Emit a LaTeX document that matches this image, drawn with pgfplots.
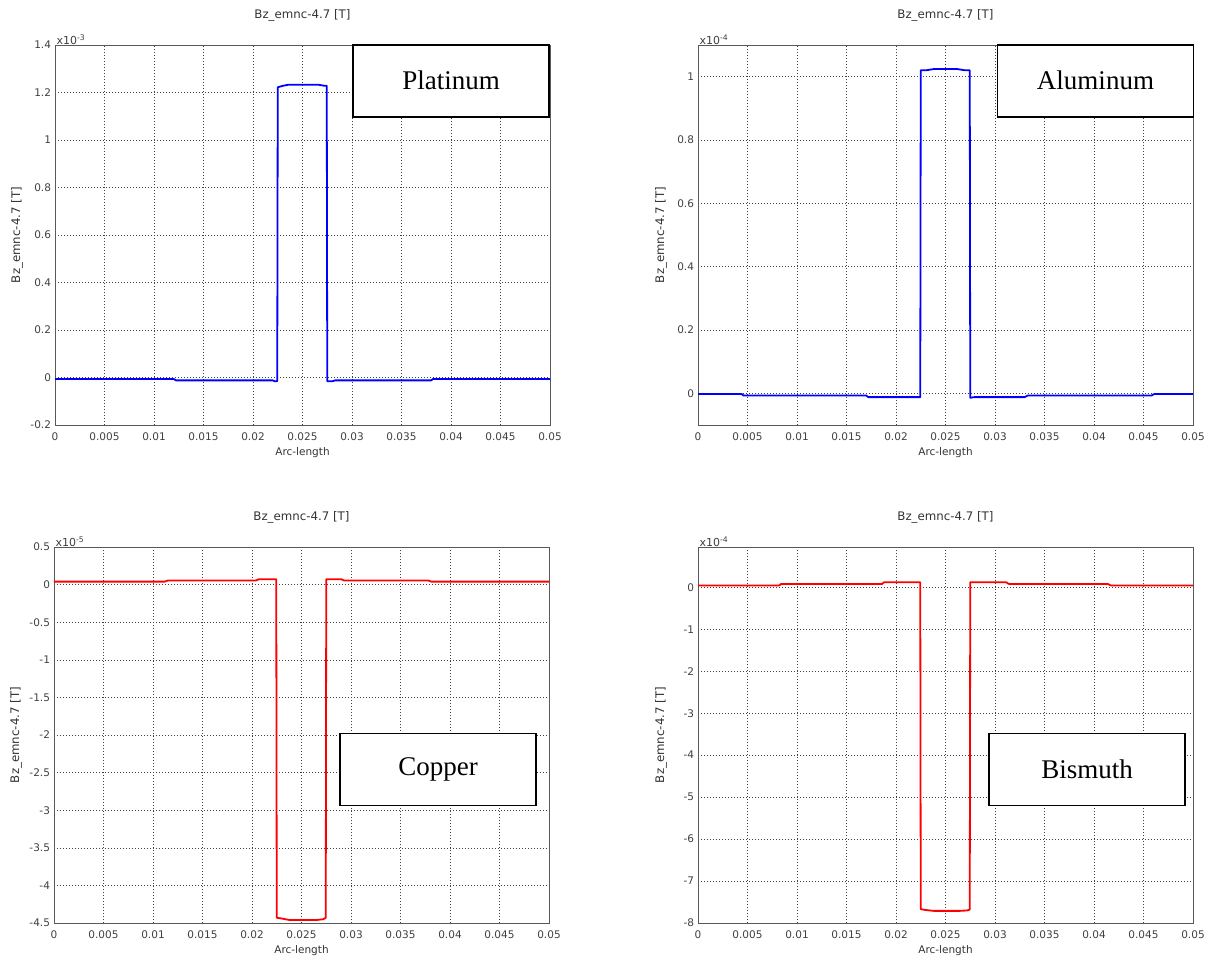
\documentclass[border=0pt]{standalone}
\usepackage{fontspec}
\setmainfont{DejaVu Sans}
\newfontfamily\boxfont{Liberation Serif}
\usepackage{pgfplots}
\pgfplotsset{compat=1.18}
\definecolor{pblue}{RGB}{0,0,255}
\definecolor{pred}{RGB}{255,0,0}
\pgfplotsset{
  comsol/.style={
    scale only axis, width=495pt, anchor=north west,
    xmin=0, xmax=0.05,
    scaled x ticks=false, scaled y ticks=false,
    xtick={0,0.005,0.01,0.015,0.02,0.025,0.03,0.035,0.04,0.045,0.05},
    xticklabels={0,0.005,0.01,0.015,0.02,0.025,0.03,0.035,0.04,0.045,0.05},
    grid=major,
    major grid style={black!75, line width=0.6pt, dash pattern=on 0.8pt off 2.2pt},
    tick style={draw=none},
    axis line style={black!65, line width=0.9pt},
    ticklabel style={font=\fontsize{10.5}{12}\selectfont, text=black!75},
    xticklabel style={yshift=-4.5pt},
    yticklabel style={xshift=-0.5pt},
    every axis title shift=0pt,
    title={Bz\_emnc-4.7 [T]},
    title style={anchor=center, font=\fontsize{11.8}{13}\selectfont, text=black!80},
    xlabel={Arc-length},
    xlabel style={anchor=center, font=\fontsize{10.5}{12}\selectfont, text=black!80},
    ylabel={Bz\_emnc-4.7 [T]},
    ylabel style={anchor=center, font=\fontsize{11.8}{13}\selectfont, text=black!80},
    clip mode=individual,
  },
}
\tikzset{
  matbox/.style={draw=black, line width=1.6pt, fill=white, minimum width=196pt, minimum height=72pt, inner sep=0pt, font=\boxfont\fontsize{27}{30}\selectfont},
  scalenote/.style={anchor=base west, inner sep=0pt, xshift=1.5pt, yshift=1pt, font=\fontsize{11}{12}\selectfont, text=black!75},
  curve/.style={line width=1.8pt, line join=round, line cap=round},
}
\begin{document}
\begin{tikzpicture}[x=1pt,y=1pt]
\useasboundingbox (0,0) rectangle (1215,-962);

% Platinum
\begin{axis}[comsol, at={(55pt,-45pt)}, height=380pt,
  ymin=-0.2, ymax=1.4,
  ytick={-0.2,0,0.2,0.4,0.6,0.8,1,1.2,1.4},
  yticklabels={-0.2,0,0.2,0.4,0.6,0.8,1,1.2,1.4},
  title style={at={(axis description cs:0.5,1.079)}},
  xlabel style={at={(axis description cs:0.5,-0.0737)}},
  ylabel style={at={(axis description cs:-0.0767,0.5)}}]
\addplot[pblue, curve] coordinates {
(0,-0.006)(0.0120,-0.006)(0.0122,-0.012)(0.0220,-0.012)(0.0222,-0.016)(0.02245,-0.016)
(0.0225,1.222)(0.0230,1.228)(0.0236,1.233)(0.0266,1.233)(0.0271,1.229)(0.02745,1.228)
(0.0275,-0.016)(0.0280,-0.016)(0.0283,-0.012)(0.0380,-0.012)(0.0382,-0.006)(0.05,-0.006)};
\node[matbox] at (rel axis cs:0.8,0.905) {\raisebox{2.5pt}{Platinum}};
\node[scalenote] at (rel axis cs:0,1) {x10\textsuperscript{-3}};
\end{axis}

% Aluminum
\begin{axis}[comsol, at={(698pt,-45pt)}, height=380pt,
  ymin=-0.1, ymax=1.1,
  ytick={0,0.2,0.4,0.6,0.8,1},
  yticklabels={0,0.2,0.4,0.6,0.8,1},
  title style={at={(axis description cs:0.5,1.079)}},
  xlabel style={at={(axis description cs:0.5,-0.0737)}},
  ylabel style={at={(axis description cs:-0.0747,0.5)}}]
\addplot[pblue, curve] coordinates {
(0,-0.002)(0.0044,-0.002)(0.0046,-0.007)(0.0170,-0.007)(0.0172,-0.012)(0.02245,-0.012)
(0.0225,1.020)(0.0230,1.020)(0.0238,1.024)(0.0262,1.024)(0.0270,1.020)(0.02745,1.020)
(0.0275,-0.014)(0.0279,-0.012)(0.0330,-0.012)(0.0333,-0.007)(0.0458,-0.007)(0.0461,-0.002)(0.05,-0.002)};
\node[matbox] at (rel axis cs:0.803,0.905) {\raisebox{2.5pt}{Aluminum}};
\node[scalenote] at (rel axis cs:0,1) {x10\textsuperscript{-4}};
\end{axis}

% Copper
\begin{axis}[comsol, at={(54pt,-547pt)}, height=376pt,
  ymin=-4.5, ymax=0.5,
  ytick={-4.5,-4,-3.5,-3,-2.5,-2,-1.5,-1,-0.5,0,0.5},
  yticklabels={-4.5,-4,-3.5,-3,-2.5,-2,-1.5,-1,-0.5,0,0.5},
  title style={at={(axis description cs:0.5,1.0798)}},
  xlabel style={at={(axis description cs:0.5,-0.0745)}},
  ylabel style={at={(axis description cs:-0.0767,0.5)}}]
\addplot[pred, curve] coordinates {
(0,0.04)(0.0112,0.04)(0.0115,0.055)(0.0204,0.055)(0.0207,0.072)(0.02245,0.072)
(0.0225,-4.43)(0.0230,-4.44)(0.0238,-4.46)(0.0265,-4.46)(0.0272,-4.45)(0.02745,-4.43)
(0.0275,0.072)(0.0290,0.072)(0.0293,0.055)(0.0378,0.055)(0.0381,0.04)(0.05,0.04)};
\node[matbox] at (rel axis cs:0.776,0.408) {\raisebox{1pt}{Copper}};
\node[scalenote] at (rel axis cs:0,1) {x10\textsuperscript{-5}};
\end{axis}

% Bismuth
\begin{axis}[comsol, at={(698pt,-547pt)}, height=376pt,
  ymin=-8, ymax=0.96,
  ytick={-8,-7,-6,-5,-4,-3,-2,-1,0},
  yticklabels={-8,-7,-6,-5,-4,-3,-2,-1,0},
  title style={at={(axis description cs:0.5,1.0798)}},
  xlabel style={at={(axis description cs:0.5,-0.0745)}},
  ylabel style={at={(axis description cs:-0.0747,0.5)}}]
\addplot[pred, curve] coordinates {
(0,0.044)(0.0082,0.044)(0.0084,0.08)(0.0186,0.08)(0.0188,0.122)(0.02245,0.122)
(0.0225,-7.67)(0.0230,-7.69)(0.0238,-7.71)(0.0265,-7.71)(0.0272,-7.70)(0.02745,-7.68)
(0.0275,0.122)(0.0311,0.122)(0.0314,0.08)(0.0414,0.08)(0.0417,0.044)(0.05,0.044)};
\node[matbox] at (rel axis cs:0.786,0.408) {\raisebox{1pt}{Bismuth}};
\node[scalenote] at (rel axis cs:0,1) {x10\textsuperscript{-4}};
\end{axis}
\end{tikzpicture}
\end{document}
